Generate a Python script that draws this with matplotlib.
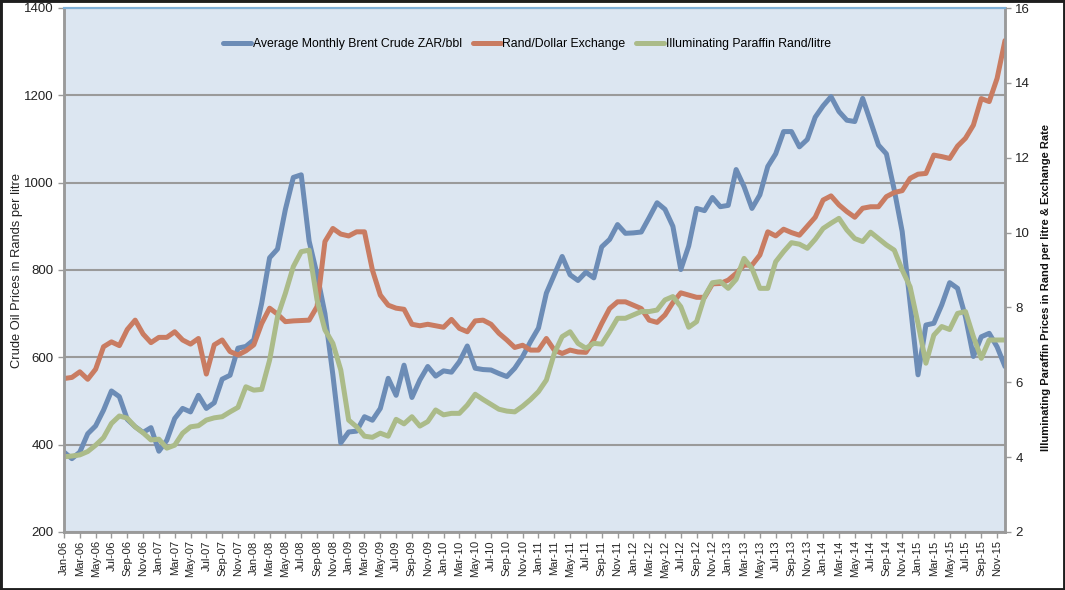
import matplotlib
matplotlib.use('Agg')
import matplotlib.pyplot as plt
import pandas as pd
from matplotlib.patches import Rectangle

plt.rcParams['font.family'] = ['Liberation Sans', 'DejaVu Sans']

months = pd.date_range('2006-01-01', periods=120, freq='MS').strftime('%b-%y').tolist()

brent_zar = [383, 368, 383, 425, 443, 479, 523, 510, 458, 441, 428, 439,
             385, 410, 460, 483, 475, 513, 483, 496, 550, 559, 621, 625,
             640, 724, 828, 848, 939, 1012, 1018, 866, 790, 700, 560, 404,
             429, 431, 464, 456, 483, 552, 513, 582, 508, 548, 579, 557,
             569, 566, 590, 626, 575, 572, 571, 563, 556, 575, 602, 636,
             667, 747, 789, 831, 789, 776, 795, 782, 853, 870, 904, 884,
             885, 887, 920, 954, 939, 900, 801, 855, 941, 936, 966, 945,
             948, 1030, 991, 941, 972, 1037, 1066, 1117, 1117, 1082, 1099, 1150,
             1176, 1197, 1163, 1143, 1140, 1193, 1140, 1086, 1066, 983, 888, 724,
             560, 674, 678, 720, 771, 758, 693, 602, 647, 655, 624, 579]

rand_dollar = [6.10, 6.13, 6.28, 6.08, 6.35, 6.95, 7.08, 6.98, 7.41, 7.66, 7.29, 7.06,
               7.20, 7.20, 7.35, 7.13, 7.02, 7.17, 6.22, 7.00, 7.13, 6.82, 6.73, 6.84,
               7.00, 7.57, 7.98, 7.82, 7.62, 7.64, 7.65, 7.66, 8.02, 9.76, 10.11, 9.96,
               9.91, 10.02, 10.02, 9.00, 8.33, 8.06, 7.98, 7.95, 7.55, 7.51, 7.55, 7.51,
               7.47, 7.68, 7.44, 7.35, 7.64, 7.66, 7.55, 7.31, 7.13, 6.93, 6.99, 6.86,
               6.86, 7.17, 6.86, 6.77, 6.86, 6.81, 6.80, 7.13, 7.57, 7.97, 8.15, 8.15,
               8.06, 7.97, 7.66, 7.60, 7.80, 8.13, 8.39, 8.33, 8.27, 8.27, 8.63, 8.64,
               8.73, 8.91, 9.13, 9.13, 9.40, 10.02, 9.91, 10.09, 10.00, 9.93, 10.17, 10.41,
               10.87, 10.98, 10.74, 10.56, 10.41, 10.65, 10.69, 10.69, 10.96, 11.07, 11.12, 11.45,
               11.56, 11.58, 12.07, 12.03, 11.98, 12.31, 12.52, 12.87, 13.58, 13.50, 14.12, 15.13]

paraffin = [4.01, 4.03, 4.06, 4.15, 4.32, 4.52, 4.90, 5.10, 5.04, 4.81, 4.65, 4.46,
            4.48, 4.24, 4.32, 4.64, 4.81, 4.84, 4.99, 5.05, 5.08, 5.21, 5.33, 5.88,
            5.79, 5.81, 6.59, 7.75, 8.38, 9.09, 9.49, 9.53, 8.20, 7.40, 7.04, 6.33,
            4.99, 4.81, 4.56, 4.53, 4.64, 4.56, 5.01, 4.89, 5.08, 4.83, 4.95, 5.26,
            5.13, 5.17, 5.17, 5.39, 5.68, 5.54, 5.41, 5.28, 5.23, 5.21, 5.36, 5.54,
            5.75, 6.06, 6.77, 7.22, 7.35, 7.04, 6.91, 7.04, 7.02, 7.35, 7.71, 7.71,
            7.80, 7.89, 7.89, 7.93, 8.20, 8.29, 8.02, 7.47, 7.62, 8.29, 8.66, 8.69,
            8.51, 8.75, 9.31, 9.04, 8.51, 8.51, 9.22, 9.49, 9.73, 9.69, 9.58, 9.82,
            10.11, 10.25, 10.38, 10.07, 9.84, 9.76, 10.01, 9.84, 9.67, 9.53, 9.00, 8.55,
            7.57, 6.51, 7.26, 7.49, 7.41, 7.84, 7.89, 7.22, 6.64, 7.13, 7.13, 7.13]

series_names = ['Average Monthly Brent Crude ZAR/bbl', 'Rand/Dollar Exchange',
                'Illuminating Paraffin Rand/litre']
left_label = 'Crude Oil Prices in Rands per litre'
right_label = 'Illuminating Paraffin Prices in Rand per litre & Exchange Rate'

W, H = 1065, 590
fig = plt.figure(figsize=(W / 100, H / 100), dpi=100)
ax = fig.add_axes([64 / W, 1 - 532 / H, 941 / W, 524 / H])
ax.set_facecolor('#DCE6F1')
ax2 = ax.twinx()

x = list(range(len(months)))
lw = 3.6
l1, = ax.plot(x, brent_zar, color='#6C8CB6', lw=lw, solid_joinstyle='round', solid_capstyle='round')
l2, = ax2.plot(x, rand_dollar, color='#C97C62', lw=lw, solid_joinstyle='round', solid_capstyle='round')
l3, = ax2.plot(x, paraffin, color='#ABBB89', lw=lw, solid_joinstyle='round', solid_capstyle='round')

ax.set_xlim(0, 119)
ax.set_ylim(200, 1400)
ax2.set_ylim(2, 16)
ax.set_yticks(range(200, 1401, 200))
ax2.set_yticks(range(2, 17, 2))
ax.set_xticks(x[::2])
ax.set_xticklabels(months[::2], rotation=90, fontsize=8)

ax.grid(axis='y', color='#9A9A9A', lw=1.5)
ax.grid(axis='x', visible=False)
ax.set_axisbelow(True)

for a in (ax, ax2):
    a.tick_params(axis='both', direction='out', length=4, color='#9A9A9A', width=1,
                  labelsize=9.5, labelcolor='#222222')
    for s in ('left', 'right', 'bottom'):
        a.spines[s].set_color('#9A9A9A')
        a.spines[s].set_linewidth(1.8)
    a.spines['top'].set_color('#7FB0D8')
    a.spines['top'].set_linewidth(1.5)
ax.tick_params(axis='x', labelsize=8, pad=2)

ax.set_ylabel(left_label, fontsize=9.3, color='#222222')
ax.yaxis.set_label_coords(-0.044, 0.5)
ax2.set_ylabel(right_label, fontsize=8.0, fontweight='bold', color='#111111', rotation=90)
ax2.yaxis.set_label_coords(1.038, 0.466)

ax2.legend([l1, l2, l3], series_names, loc='center', bbox_to_anchor=(0.492, 0.931),
           ncol=3, frameon=False, fontsize=8.8, handlelength=2.3, handletextpad=0.1,
           columnspacing=0.9)

fig.patches.append(Rectangle((0, 0), 1, 1, transform=fig.transFigure, fill=False,
                             edgecolor='#1E1E1E', lw=3.5))

fig.savefig('out.png', dpi=100)
